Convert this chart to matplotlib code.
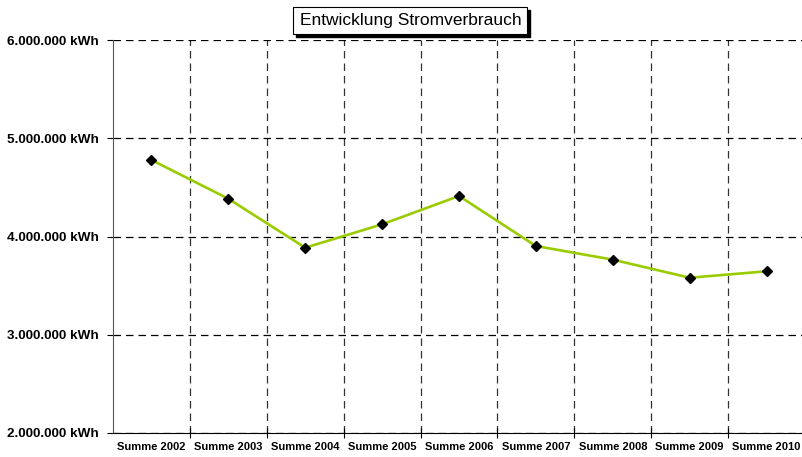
import matplotlib.pyplot as plt
from matplotlib.ticker import FuncFormatter, MultipleLocator
from matplotlib.patches import Rectangle

# Daten
jahre = ["Summe 2002", "Summe 2003", "Summe 2004", "Summe 2005", "Summe 2006",
         "Summe 2007", "Summe 2008", "Summe 2009", "Summe 2010"]
verbrauch = [4780000, 4385000, 3886000, 4124000, 4413000,
             3903000, 3764000, 3580000, 3645000]

plt.rcParams['font.family'] = ['Liberation Sans', 'DejaVu Sans']

fig = plt.figure(figsize=(8.03, 4.57), dpi=100)
ax = fig.add_axes([113/803, 24.3/457, 692/803, 392.4/457])

x = list(range(len(jahre)))
ax.plot(x, verbrauch, color="#99CC00", lw=1.9, marker='D', markersize=5.5,
        markerfacecolor="black", markeredgecolor="black", zorder=3)

ax.set_xlim(-0.5, len(jahre) - 0.5)
ax.set_ylim(2000000, 6000000)

def fmt(v, pos):
  return f"{int(v):,}".replace(",", ".") + " kWh"

ax.yaxis.set_major_locator(MultipleLocator(1000000))
ax.yaxis.set_major_formatter(FuncFormatter(fmt))
ax.set_xticks(x)
ax.set_xticklabels(jahre)
ax.set_xticks([i + 0.5 for i in range(len(jahre) - 1)], minor=True)

for lbl in ax.get_yticklabels():
  lbl.set_fontweight('bold')
  lbl.set_fontsize(9.7)
for lbl in ax.get_xticklabels():
  lbl.set_fontweight('bold')
  lbl.set_fontsize(8)

ax.tick_params(axis='y', direction='out', length=4, width=0.8, pad=6, colors='black')
ax.tick_params(axis='x', which='major', length=0, pad=7)
ax.tick_params(axis='x', which='minor', direction='inout', length=7, width=0.8)

ax.grid(axis='y', which='major', color='black', lw=0.9, linestyle=(0, (6, 4)))
ax.grid(axis='x', which='minor', color='#333333', lw=0.9, linestyle=(0, (6, 4)))
ax.set_axisbelow(True)

ax.spines['top'].set_visible(False)
ax.spines['right'].set_visible(False)
ax.spines['left'].set_color('#555555')
ax.spines['bottom'].set_color('black')

# Titel mit Schatten
titel = fig.text(0.511, 0.955, "Entwicklung Stromverbrauch", ha='center', va='center',
                 fontsize=12.5, color='black', zorder=5,
                 bbox=dict(boxstyle='square,pad=0.35', facecolor='white', edgecolor='black', lw=0.8))
fig.canvas.draw()
bb = titel.get_bbox_patch().get_window_extent()
schatten = Rectangle((bb.x0 + 3, bb.y0 - 3), bb.width, bb.height, transform=None,
                     facecolor='black', edgecolor='black', zorder=4)
fig.patches.append(schatten)

fig.savefig("out.png", dpi=100)
